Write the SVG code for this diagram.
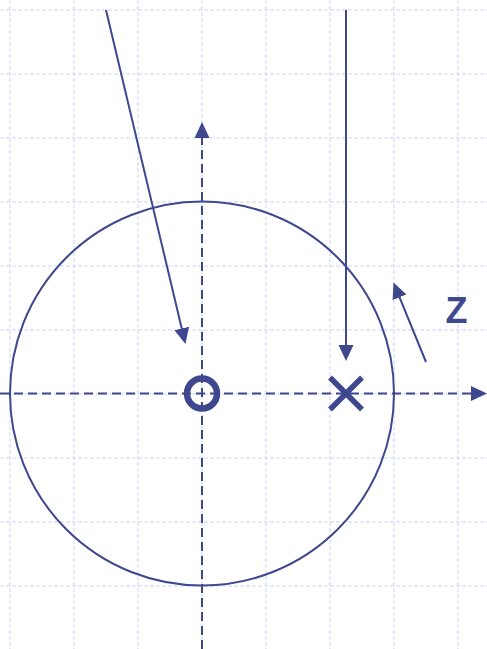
<svg xmlns="http://www.w3.org/2000/svg" width="487" height="649" viewBox="0 0 487 649">
<style>
.grid line{stroke:#dce3f9;stroke-width:1.5;stroke-dasharray:4 2}
.axis{stroke:#3f478e;stroke-width:2;stroke-dasharray:9 5;fill:none}
.ln{stroke:#3f478e;stroke-width:2;fill:none}
.lbl{font-family:"Liberation Sans",Arial,sans-serif;font-size:36px;font-weight:bold;fill:#3f478e}
</style>
<defs>
<marker id="ah" markerUnits="userSpaceOnUse" markerWidth="16" markerHeight="16" refX="8" refY="7.5" orient="auto" viewBox="0 0 16 15">
<path d="M0,0 L16,7.5 L0,15 z" fill="#3f478e"/>
</marker>
</defs>
<rect width="487" height="649" fill="#ffffff"/>
<g class="grid">
<line x1="10" y1="0" x2="10" y2="649"/>
<line x1="74" y1="0" x2="74" y2="649"/>
<line x1="138" y1="0" x2="138" y2="649"/>
<line x1="202" y1="0" x2="202" y2="649"/>
<line x1="266" y1="0" x2="266" y2="649"/>
<line x1="330" y1="0" x2="330" y2="649"/>
<line x1="394" y1="0" x2="394" y2="649"/>
<line x1="458" y1="0" x2="458" y2="649"/>
<line x1="0" y1="10" x2="487" y2="10"/>
<line x1="0" y1="74" x2="487" y2="74"/>
<line x1="0" y1="138" x2="487" y2="138"/>
<line x1="0" y1="202" x2="487" y2="202"/>
<line x1="0" y1="266" x2="487" y2="266"/>
<line x1="0" y1="330" x2="487" y2="330"/>
<line x1="0" y1="394" x2="487" y2="394"/>
<line x1="0" y1="458" x2="487" y2="458"/>
<line x1="0" y1="522" x2="487" y2="522"/>
<line x1="0" y1="586" x2="487" y2="586"/>
</g>
<g id="circle-boundary">
<circle cx="202" cy="393.5" r="192" class="ln"/>
</g>
<g id="connectors">
<line class="axis" x1="202" y1="649" x2="202" y2="130" marker-end="url(#ah)"/>
<line class="axis" x1="0" y1="393.5" x2="479" y2="393.5" marker-end="url(#ah)"/>
<line class="ln" x1="106" y1="10" x2="183.6" y2="336.2" marker-end="url(#ah)"/>
<line class="ln" x1="346" y1="10" x2="346" y2="353" marker-end="url(#ah)"/>
<line class="ln" x1="426" y1="362" x2="396.5" y2="289.9" marker-end="url(#ah)"/>
</g>
<g id="origin-o">
<circle cx="202" cy="393.5" r="15" fill="none" stroke="#3f478e" stroke-width="6.5"/>
</g>
<g id="point-x">
<path d="M330,377.5 L362,409.5 M330,409.5 L362,377.5" stroke="#3f478e" stroke-width="5.5" fill="none"/>
</g>
<g id="label-z">
<text class="lbl" x="445.5" y="322.7">Z</text>
</g>
</svg>
